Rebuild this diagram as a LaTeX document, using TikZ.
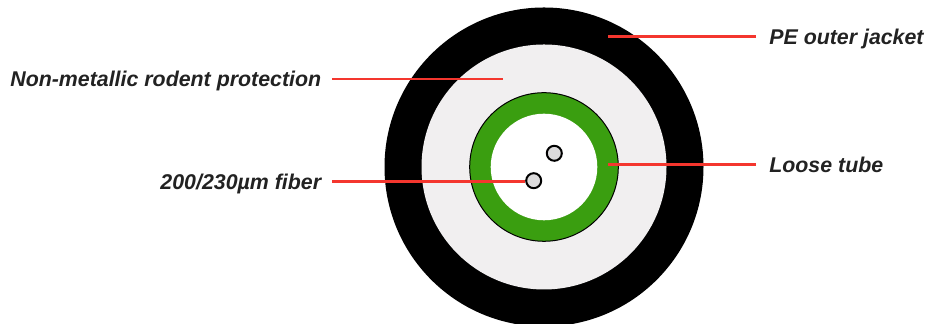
\documentclass[tikz,border=0pt]{standalone}
\usepackage{xcolor}
\usepackage{fontspec}
\setmainfont{Liberation Sans}
\usepackage{tikz}
\usetikzlibrary{positioning}
\definecolor{leadred}{HTML}{F4362E}
\definecolor{tubegreen}{HTML}{3A9E10}
\definecolor{armorgray}{HTML}{F1EFF0}
\definecolor{coregray}{HTML}{DCDBDC}
\definecolor{labelgray}{HTML}{222222}
\tikzset{
  leader/.style={leadred, line width=0.045cm},
  fiber/.style={circle, draw=black, fill=coregray, line width=0.04cm, minimum size=0.3cm, inner sep=0pt},
  leftlabel/.style={anchor=east, inner xsep=0.21cm, inner ysep=0pt, text height=0.42cm, text depth=0.1cm, text=labelgray, font=\fontsize{12.15}{15}\selectfont\bfseries\itshape},
  rightlabel/.style={anchor=west, inner xsep=0.26cm, inner ysep=0pt, text height=0.42cm, text depth=0.1cm, text=labelgray, font=\fontsize{12.15}{15}\selectfont\bfseries\itshape}
}
\begin{document}
\begin{tikzpicture}
  \useasboundingbox (0,0) rectangle (18.52,6.48);
  \clip (0,0) rectangle (18.52,6.48);
  % cable layers
  \fill[black] (10.88,3.14) circle (3.19);
  \fill[armorgray] (10.88,3.14) circle (2.45);
  \draw[black, fill=tubegreen, line width=0.02cm] (10.88,3.14) circle (1.486);
  \fill[white] (10.88,3.14) circle (1.066);
  \node[fiber] (fibera) at (11.086,3.414) {};
  \node[fiber] (fiberb) at (10.674,2.866) {};
  % labels
  \node[rightlabel] (jacket) at (15.12,5.75) {PE outer jacket};
  \node[leftlabel] (rodent) at (6.64,4.9) {Non-metallic rodent protection};
  \node[rightlabel] (tube) at (15.12,3.19) {Loose tube};
  \node[leftlabel] (fiberlabel) at (6.64,2.85) {200/230µm fiber};
  \coordinate (jacketend) at (12.16,5.75);
  \coordinate (rodentend) at (10.06,4.9);
  \coordinate (tubeend) at (12.16,3.19);
  % leaders
  \draw[leader] (jacket.west) -- (jacketend);
  \draw[leader] (rodent.east) -- (rodentend);
  \draw[leader] (tube.west) -- (tubeend);
  \draw[leader] (fiberlabel.east) -- (fiberb.west |- fiberlabel.east);
\end{tikzpicture}
\end{document}
